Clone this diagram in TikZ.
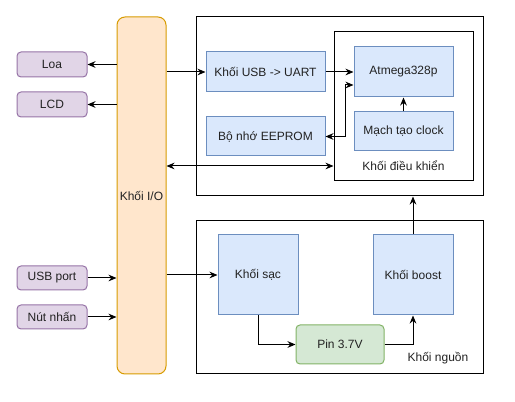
\documentclass[tikz,border=0pt]{standalone}
\usepackage{fontspec}
\setmainfont{Liberation Sans}
\usetikzlibrary{arrows.meta,calc}
\definecolor{pfill}{HTML}{E1D5E7}\definecolor{pline}{HTML}{9673A6}
\definecolor{ofill}{HTML}{FFE6CC}\definecolor{oline}{HTML}{D79B00}
\definecolor{bfill}{HTML}{DAE8FC}\definecolor{bline}{HTML}{6C8EBF}
\definecolor{gfill}{HTML}{D5E8D4}\definecolor{gline}{HTML}{82B366}
\definecolor{txt}{HTML}{222222}
\begin{document}
\begin{tikzpicture}[x=0.75pt,y=-0.75pt,
  every node/.style={font=\fontsize{9pt}{11pt}\selectfont,text=txt,inner sep=0pt},
  pbox/.style={draw=pline,fill=pfill,rounded corners=3pt,line width=0.75pt},
  obox/.style={draw=oline,fill=ofill,rounded corners=6pt,line width=0.75pt},
  bbox/.style={draw=bline,fill=bfill,line width=0.75pt},
  gbox/.style={draw=gline,fill=gfill,rounded corners=3pt,line width=0.75pt},
  frame/.style={draw=black,line width=0.75pt},
  conn/.style={draw=black,line width=0.75pt,-{Stealth[length=6pt,width=5pt]}},
  bconn/.style={draw=black,line width=0.75pt,{Stealth[length=6pt,width=5pt]}-{Stealth[length=6pt,width=5pt]}}]
\useasboundingbox (0,0) rectangle (515,402);
% frames
\node[frame,minimum width=287*0.75pt,minimum height=179*0.75pt] (top) at (339.5,106.5) {};
\node[frame,minimum width=139*0.75pt,minimum height=149*0.75pt] (ctrl) at (403.5,106.5) {};
\node[frame,minimum width=287*0.75pt,minimum height=153*0.75pt] (bottom) at (339.5,297.5) {};
% left boxes
\node[pbox,minimum width=70*0.75pt,minimum height=25*0.75pt] (loa) at (52,64.5) {Loa};
\node[pbox,minimum width=70*0.75pt,minimum height=25*0.75pt] (lcd) at (52,104.5) {LCD};
\node[pbox,minimum width=70*0.75pt,minimum height=24*0.75pt] (usbport) at (52,278) {USB port};
\node[pbox,minimum width=70*0.75pt,minimum height=24*0.75pt] (nut) at (52,317) {Nút nhấn};
\node[obox,minimum width=49*0.75pt,minimum height=357*0.75pt] (io) at (141.5,195.5) {Khối I/O};
% control blocks
\node[bbox,minimum width=119*0.75pt,minimum height=40*0.75pt] (usb) at (265.5,72) {Khối USB -> UART};
\node[bbox,minimum width=119*0.75pt,minimum height=39*0.75pt] (eeprom) at (265.5,136.5) {Bộ nhớ EEPROM};
\node[bbox,minimum width=99*0.75pt,minimum height=50*0.75pt] (atm) at (403.5,72) {Atmega328p};
\node[bbox,minimum width=99*0.75pt,minimum height=39*0.75pt] (clk) at (403.5,131.5) {Mạch tạo clock};
\node (ctrllabel) at (403.5,166) {Khối điều khiển};
% power blocks
\node[bbox,minimum width=80*0.75pt,minimum height=80*0.75pt] (sac) at (258,275) {Khối sạc};
\node[bbox,minimum width=80*0.75pt,minimum height=80*0.75pt] (boost) at (413,275) {Khối boost};
\node[gbox,minimum width=88*0.75pt,minimum height=39*0.75pt] (pin) at (340,344.5) {Pin 3.7V};
\node (powlabel) at (438,358) {Khối nguồn};
% connectors
\draw[conn] (loa.east -| io.west) -- (loa.east);
\draw[conn] (lcd.east -| io.west) -- (lcd.east);
\draw[conn] (usbport.east) -- (usbport.east -| io.west);
\draw[conn] (nut.east) -- (nut.east -| io.west);
\draw[conn] (usb.west -| io.east) -- (usb.west);
\draw[conn] (sac.west -| io.east) -- (sac.west);
\draw[conn] (usb.east) -- (atm.west);
\draw[bconn] (eeprom.east) -- ++(20,0) |- ($(atm.west)+(0,13)$);
\draw[conn] (clk.north) -- (atm.south);
\draw[bconn] (io.east |- ctrllabel) -- (ctrl.west |- ctrllabel);
\draw[conn] (sac.south) |- (pin.west);
\draw[conn] (pin.east) -| (boost.south);
\draw[conn] (boost.north) -- (top.south -| boost.north);
\end{tikzpicture}
\end{document}
